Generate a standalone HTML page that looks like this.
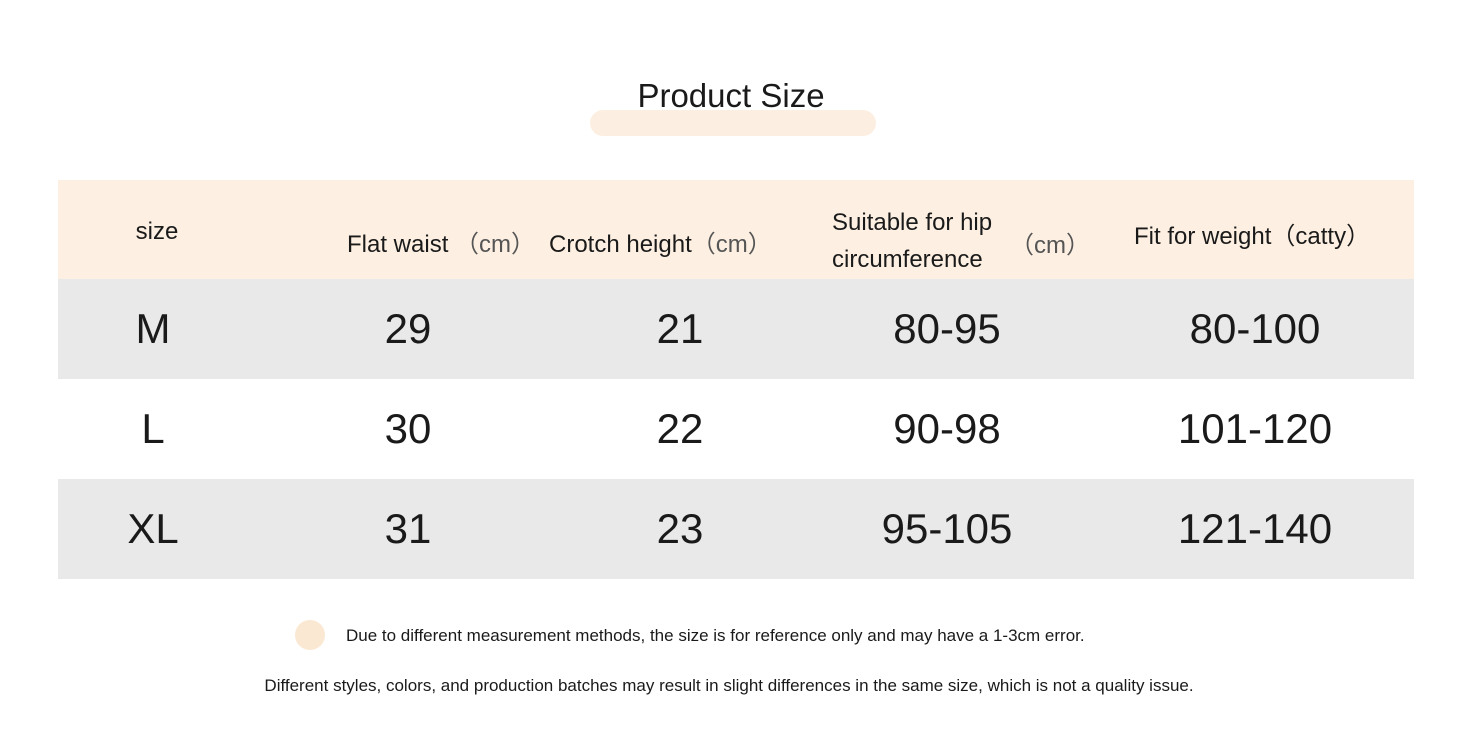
<!DOCTYPE html>
<html><head><meta charset="utf-8"><style>
body{margin:0;width:1458px;height:742px;background:#fff;position:relative;overflow:hidden;font-family:"Liberation Sans","Noto Sans CJK SC",sans-serif;color:#1a1a1a}
.a{position:absolute;white-space:nowrap}
.c{transform:translateX(-50%)}
.v{font-size:42px;top:0;line-height:100px}
.h{font-size:24px}
.u{color:#555}
</style></head><body>
<div class="a" style="left:590px;top:110px;width:286px;height:26px;border-radius:13px;background:#fcefe1"></div>
<div class="a c" style="left:731px;top:77px;font-size:33px">Product Size</div>
<div class="a" style="left:58px;top:180px;width:1356px;height:99px;background:#fdf0e2"></div>
<div class="a" style="left:58px;top:279px;width:1356px;height:100px;background:#e9e9e9"></div>
<div class="a" style="left:58px;top:479px;width:1356px;height:100px;background:#e9e9e9"></div>
<div class="a h c" style="left:157px;top:218px">size</div>
<div class="a h" style="left:347px;top:224px">Flat waist <span class="u">（cm）</span></div>
<div class="a h" style="left:549px;top:224px">Crotch height<span class="u">（cm）</span></div>
<div class="a h" style="left:832px;top:204px;line-height:37px">Suitable for hip<br>circumference</div>
<div class="a h u" style="left:1010px;top:225px">（cm）</div>
<div class="a h" style="left:1134px;top:216px">Fit for weight<span>（catty）</span></div>
<div id="rows"></div>
<div class="a" style="left:295px;top:620px;width:30px;height:30px;border-radius:50%;background:#fbe8d3"></div>
<div class="a" style="left:346px;top:626px;font-size:17px">Due to different measurement methods, the size is for reference only and may have a 1-3cm error.</div>
<div class="a c" style="left:729px;top:676px;font-size:17px">Different styles, colors, and production batches may result in slight differences in the same size, which is not a quality issue.</div>
<script>
const sizes=["M","L","XL"];
const waist=["29","30","31"];
const crotch=["21","22","23"];
const hip=["80-95","90-98","95-105"];
const weight=["80-100","101-120","121-140"];
const cols=[153,408,680,947,1255];
const root=document.getElementById('rows');
const data=[sizes,waist,crotch,hip,weight];
const names=['size','waist','crotch','hip','weight'];
for(let r=0;r<sizes.length;r++){
  for(let c=0;c<data.length;c++){
    const el=document.createElement('div');
    el.className='a c v';
    el.style.left=cols[c]+'px';
    el.style.top=(279+r*100)+'px';
    el.textContent=data[c][r];
    
    
    root.appendChild(el);
  }
}
</script>
</body></html>
